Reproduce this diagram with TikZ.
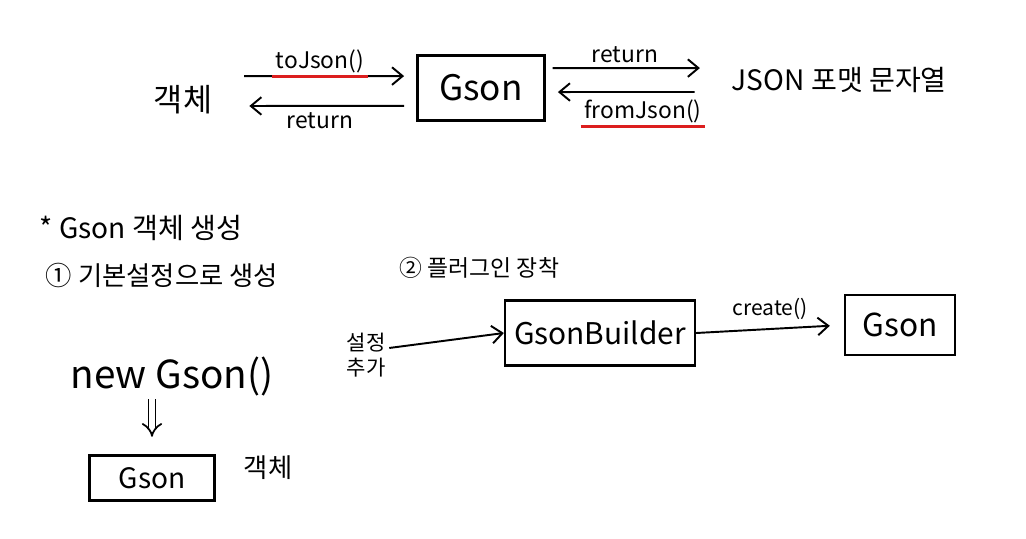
\documentclass[tikz,border=0pt]{standalone}
\usepackage{fontspec}
\setmainfont{Noto Sans CJK KR}
\usetikzlibrary{arrows.meta,positioning}
\definecolor{gsonRed}{RGB}{220,30,30}

\begin{document}
\begin{tikzpicture}[x=0.02cm,y=-0.02cm,
    box/.style={rectangle, draw=black, line width=1.3pt, inner sep=0pt},
    txt/.style={inner sep=2pt, text=black},
    arr/.style={-{Straight Barb[length=6pt,width=10pt]}, line width=1.1pt},
    uline/.style={gsonRed, line width=1.2pt}
  ]
  \useasboundingbox (0,0) rectangle (1026,538);

  % Conversion between object and JSON string
  \node[txt, font=\fontsize{18}{20}\selectfont] (objL) at (183,100) {객체};
  \node[box, minimum width=2.54cm, minimum height=1.3cm,
        font=\fontsize{20}{24}\selectfont] (gsonTop) at (481,88) {Gson};
  \node[txt, anchor=west, font=\fontsize{16}{18}\selectfont] (json) at (728,80) {JSON 포맷 문자열};

  \draw[arr, shorten <=16pt, shorten >=7pt]
    ([yshift=13.6pt]objL.east) -- ([yshift=6.8pt]gsonTop.west);
  \draw[arr, shorten <=7pt, shorten >=19pt]
    ([yshift=-10.2pt]gsonTop.west) -- ([yshift=-3.4pt]objL.east);
  \draw[arr, shorten <=4pt, shorten >=16pt]
    ([yshift=11.3pt]gsonTop.east) -- ([yshift=6.8pt]json.west);
  \draw[arr, shorten <=19pt, shorten >=7pt]
    ([yshift=-6.8pt]json.west) -- ([yshift=-2.3pt]gsonTop.east);

  \node[txt, font=\fontsize{13}{15}\selectfont] (toJson) at (320,61) {toJson()};
  \node[txt, font=\fontsize{13}{15}\selectfont] (retL) at (320,121) {return};
  \node[txt, font=\fontsize{13}{15}\selectfont] (retR) at (625,55) {return};
  \node[txt, font=\fontsize{13}{15}\selectfont] (fromJson) at (643,111) {fromJson()};
  \draw[uline] (toJson.south west) -- (toJson.south east);
  \draw[uline] (fromJson.south west) -- (fromJson.south east);

  % Creating a Gson object
  \node[txt, anchor=west, font=\fontsize{16}{18}\selectfont] (title) at (36,228) {* Gson 객체 생성};
  \node[txt, anchor=west, font=\fontsize{15}{17}\selectfont] (stepOne) at (42,275) {① 기본설정으로 생성};
  \node[txt, anchor=west, font=\fontsize{13}{15}\selectfont] (stepTwo) at (396,268) {② 플러그인 장착};

  % 1) default settings
  \node[txt, font=\fontsize{22}{26}\selectfont] (newG) at (172,376) {new Gson()};
  \node[box, minimum width=2.5cm, minimum height=0.9cm,
        font=\fontsize{16}{18}\selectfont] (gsonB) at (152,478) {Gson};
  \node[txt, font=\fontsize{15}{17}\selectfont] (objB) at (268,468) {객체};
  \draw[-{Implies}, double, double distance=3pt, line width=1pt, shorten >=10pt]
    (newG.south -| gsonB.north) -- (gsonB.north);

  % 2) builder with plugins
  \node[txt, align=center, font=\fontsize{12}{14}\selectfont] (addCfg) at (366,355) {설정\\추가};
  \node[box, minimum width=3.8cm, minimum height=1.3cm,
        font=\fontsize{17}{20}\selectfont] (builder) at (600,333) {GsonBuilder};
  \node[box, minimum width=2.2cm, minimum height=1.2cm,
        font=\fontsize{18}{22}\selectfont] (gsonR) at (900,325) {Gson};
  \draw[arr] ([yshift=4pt]addCfg.east) -- (builder.west);
  \draw[arr, shorten >=8pt] (builder.east) -- (gsonR.west);
  \node[txt, font=\fontsize{12}{14}\selectfont] (create) at (770,309) {create()};
\end{tikzpicture}
\end{document}
